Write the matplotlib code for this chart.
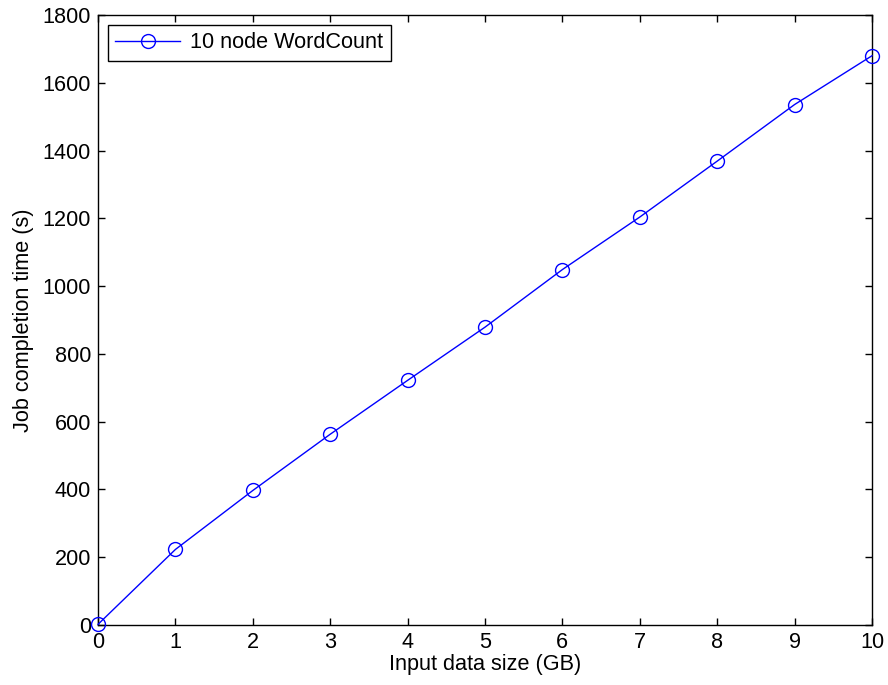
import matplotlib
matplotlib.use("Agg")
import matplotlib.pyplot as plt

sizes_gb = [0, 1, 2, 3, 4, 5, 6, 7, 8, 9, 10]
completion_s = [2, 223, 397, 563, 722, 879, 1049, 1204, 1369, 1536, 1680]
series_label = "10 node WordCount"
x_ticks = list(range(0, 11))
y_ticks = list(range(0, 1801, 200))

FS = 15.6
plt.rcParams['font.family'] = ['Liberation Sans', 'DejaVu Sans']
plt.rcParams['font.size'] = FS

fig = plt.figure(figsize=(8.88, 6.85), dpi=100)
ax = fig.add_axes([0.1104, 0.0876, 0.8716, 0.8904])
ax.plot(sizes_gb, completion_s, color='#0000ff', linewidth=1, marker='o',
        markersize=10, markerfacecolor='none', markeredgecolor='#0000ff',
        markeredgewidth=1, label=series_label, clip_on=False, zorder=3)
ax.set_xlim(0, 10)
ax.set_ylim(0, 1800)
ax.set_xticks(x_ticks)
ax.set_yticks(y_ticks)
ax.tick_params(direction='in', length=5, width=1, top=True, right=True, labelsize=FS)
ax.tick_params(axis='y', pad=5)
ax.tick_params(axis='x', pad=5)
for s in ax.spines.values():
    s.set_linewidth(1)
ax.set_xlabel("Input data size (GB)", fontsize=FS, labelpad=1)
ax.set_ylabel("Job completion time (s)", fontsize=FS, labelpad=6)
leg = ax.legend(loc='upper left', fancybox=False, framealpha=1, edgecolor='black',
                fontsize=FS, borderaxespad=0.45, handlelength=3.0, handletextpad=0.45,
                borderpad=0.35)
leg.get_frame().set_linewidth(1)
fig.savefig("out.png", dpi=100)
